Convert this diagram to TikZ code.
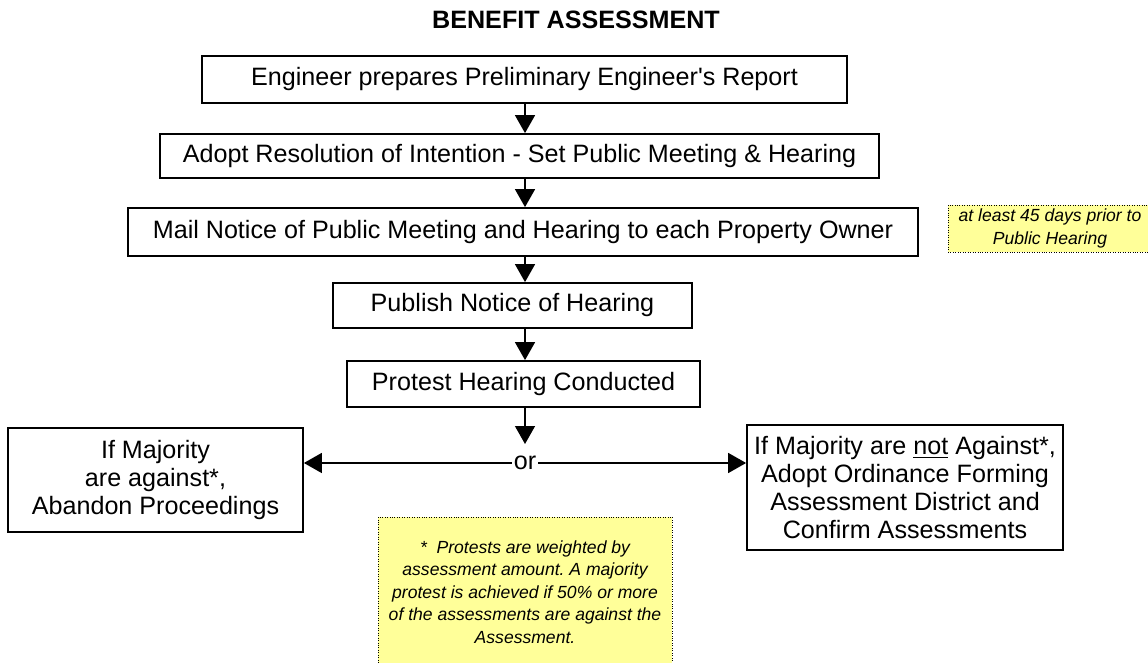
\documentclass[tikz,border=0pt]{standalone}
\usepackage{fontspec}
\setmainfont{Liberation Sans}
\usetikzlibrary{arrows.meta}
\definecolor{noteyellow}{RGB}{255,255,153}
\frenchspacing

\begin{document}
\begin{tikzpicture}
          [font=\fontsize{14.3}{15.8}\selectfont,
          box/.style={shape=rectangle,draw=black,fill=white,line width=1pt,align=center,inner sep=0pt},
          note/.style={shape=rectangle,draw=black,densely dotted,fill=noteyellow,align=center,inner sep=0pt,
                       font=\fontsize{10}{12.8}\selectfont\itshape},
          arc/.style={-{Triangle[width=0.4cm,length=0.36cm]},line width=0.8pt}]

            \useasboundingbox (0,0) rectangle (22.96,13.26);
            \clip (0,0) rectangle (22.96,13.26);
            \coordinate (axis) at (10.5,0);

            \node (title) at (11.52,12.86) {\bfseries BENEFIT ASSESSMENT};

            \node (1) [box,minimum width=12.9cm,minimum height=0.94cm] at (10.49,11.67) {Engineer prepares Preliminary Engineer\textquotesingle s Report};
            \node (2) [box,minimum width=14.38cm,minimum height=0.88cm] at (10.39,10.14) {Adopt Resolution of Intention - Set Public Meeting \& Hearing};
            \node (3) [box,minimum width=15.8cm,minimum height=0.96cm] at (10.46,8.62) {Mail Notice of Public Meeting and Hearing to each Property Owner};
            \node (4) [box,minimum width=7.18cm,minimum height=0.9cm] at (10.25,7.15) {Publish Notice of Hearing};
            \node (5) [box,minimum width=7.06cm,minimum height=0.92cm] at (10.47,5.58) {Protest Hearing Conducted};
            \node (or) [inner sep=1pt] at (10.5,4.0) {or};
            \node (against) [box,minimum width=5.9cm,minimum height=2.08cm] at (3.11,3.66) {If Majority\\are against*,\\Abandon Proceedings};
            \node (notagainst) [box,minimum width=6.32cm,minimum height=2.5cm] at (18.1,3.51) {If Majority are \underline{not} Against*,\\Adopt Ordinance Forming\\Assessment District and\\Confirm Assessments};

            \node (days) [note,minimum width=4.08cm,minimum height=0.94cm] at (21.0,8.69) {at least 45 days prior to\\Public Hearing};
            \node (weight) [note,minimum width=5.88cm,minimum height=3.0cm] at (10.5,1.42) {*\ \ Protests are weighted by\\assessment amount. A majority\\protest is achieved if 50\% or more\\of the assessments are against the\\Assessment.};

          \draw [arc] (1.south -| axis) to (2.north -| axis);
          \draw [arc] (2.south -| axis) to (3.north -| axis);
          \draw [arc] (3.south -| axis) to (4.north -| axis);
          \draw [arc] (4.south -| axis) to (5.north -| axis);
          \draw [arc, shorten >=0.2cm] (5.south -| axis) to (or.north -| axis);
          \draw [arc] (or.west) to (or -| against.east);
          \draw [arc] (or.east) to (or -| notagainst.west);

        \end{tikzpicture}
\end{document}
